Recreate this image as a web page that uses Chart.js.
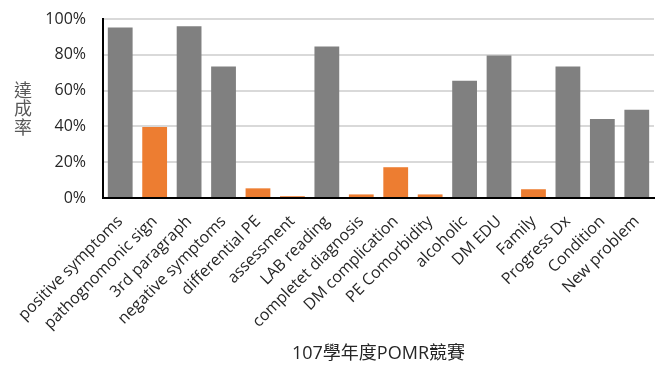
<!DOCTYPE html>
<html>
<head>
<meta charset="utf-8">
<script src="https://cdn.jsdelivr.net/npm/chart.js@4"></script>
<style>
  html, body { margin: 0; padding: 0; background: #fff; }
  #wrap { width: 662px; height: 365px; }
</style>
</head>
<body>
<div id="wrap"><canvas id="pomrChart" width="662" height="365"></canvas></div>
<script>
const categories = ["positive symptoms", "pathognomonic sign", "3rd paragraph", "negative symptoms", "differential PE", "assessment", "LAB reading", "completet diagnosis", "DM complication", "PE Comorbidity", "alcoholic", "DM EDU", "Family", "Progress Dx", "Condition", "New problem"];
const rates = [95.2, 39.7, 95.9, 73.4, 5.4, 1, 84.7, 2, 17.2, 2, 65.5, 79.6, 4.9, 73.4, 44.2, 49.3];
const lowFlags = [false, true, false, false, true, true, false, true, true, true, false, false, true, false, false, false];
const yTicks = [0, 20, 40, 60, 80, 100];
const yTitleChars = ["達", "成", "率"];
const xTitle = "107學年度POMR競賽";

const GRAY = "#808080";
const ORANGE = "#ED7D31";
const FONT = "'Open Sans', 'Noto Sans CJK TC', sans-serif";

// stacked y title, drawn char by char like the original
const yTitlePlugin = {
    id: "yTitle",
    afterDraw(chart) {
        const ctx = chart.ctx;
        ctx.save();
        ctx.font = "18px 'Noto Sans CJK TC', sans-serif";
        ctx.fillStyle = "#595959";
        ctx.textAlign = "center";
        ctx.textBaseline = "middle";
        yTitleChars.forEach((ch, i) => {
            ctx.fillText(ch, 23, 90 + i * 18.5);
        });
        ctx.restore();
    }
};

const ctx = document.getElementById("pomrChart").getContext("2d");
const pomrChart = new Chart(ctx, {
    type: "bar",
    data: {
        labels: categories,
        datasets: [{
            label: "達成率",
            data: rates,
            backgroundColor: lowFlags.map(f => f ? ORANGE : GRAY),
            borderWidth: 0,
            categoryPercentage: 1,
            barPercentage: 0.72
        }]
    },
    options: {
        responsive: false,
        animation: false,
        layout: { padding: { left: 0, right: 8, top: 19, bottom: 0 } },
        plugins: {
            legend: { display: false },
            tooltip: { enabled: false }
        },
        scales: {
            x: {
                grid: { display: false, drawTicks: false },
                border: { display: true, color: "#000", width: 2 },
                ticks: {
                    color: "#262626",
                    font: { family: FONT, size: 16 },
                    maxRotation: 45,
                    minRotation: 45,
                    padding: 14,
                    autoSkip: false
                },
                title: {
                    display: true,
                    text: xTitle,
                    color: "#262626",
                    font: { family: FONT, size: 18 },
                    padding: { top: 0, bottom: 0 }
                },
                afterFit(scale) {
                    scale.height = 167;
                    scale.paddingLeft = 0;
                    scale.paddingRight = 0;
                }
            },
            y: {
                min: 0,
                max: 100,
                afterBuildTicks(scale) { scale.ticks = yTicks.map(v => ({ value: v })); },
                grid: {
                    color: (c) => c.tick && c.tick.value === 0 ? "rgba(0,0,0,0)" : "#D9D9D9",
                    lineWidth: 2,
                    drawTicks: false
                },
                border: { display: true, color: "#000", width: 2 },
                ticks: {
                    color: "#262626",
                    font: { family: FONT, size: 16 },
                    padding: 17,
                    callback: v => v + "%"
                },
                afterFit(scale) {
                    scale.width = 103;
                    scale.paddingTop = 0;
                    scale.paddingBottom = 0;
                }
            }
        }
    },
    plugins: [yTitlePlugin]
});
</script>
</body>
</html>
